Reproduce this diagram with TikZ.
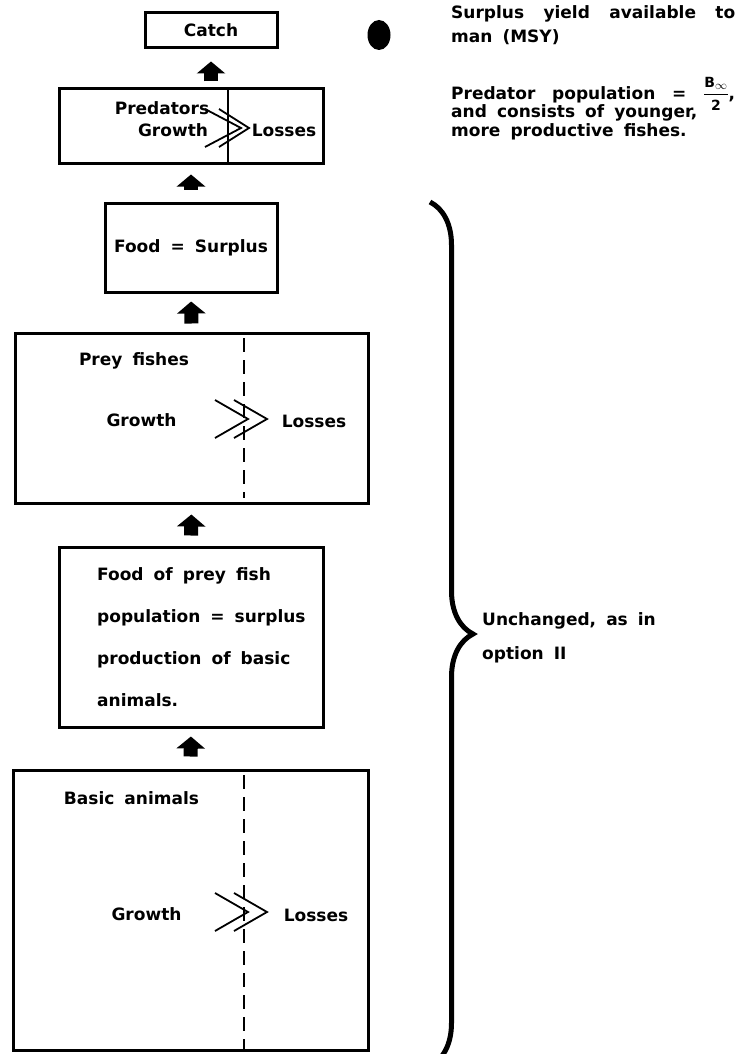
\documentclass[tikz,border=0pt]{standalone}
\usepackage{amsmath}
\usepackage{fontspec}
\setmainfont{DejaVu Sans}[WordSpace=1.7]
\usetikzlibrary{arrows.meta, decorations.pathreplacing}

\begin{document}
\begin{tikzpicture}[
    x=1pt, y=-1pt,
    box/.style={rectangle, draw, line width=3pt, inner sep=0pt},
    txt/.style={font=\bfseries\fontsize{17}{20}\selectfont, inner sep=0pt},
    remark/.style={font=\bfseries\fontsize{17}{24}\selectfont, inner sep=0pt, align=left},
    blockarrow/.style={-{Triangle[width=28pt, length=12pt]}, line width=14pt},
    divider/.style={line width=2pt},
    chevron/.style={line width=1.8pt}
]

% Fixed page size
\useasboundingbox (0,0) rectangle (739,1054);

% Catch and surplus yield
\node[box, txt, minimum width=132pt, minimum height=35pt] (catch) at (211,30.5) {Catch};
\fill (379,35) ellipse [x radius=11.5, y radius=15];
\node[remark, anchor=north west] (msy_note) at (451,5)
    {\makebox[284pt][s]{Surplus yield available to}\\man (MSY)};

% Predators
\node[box, minimum width=264pt, minimum height=74pt] (pred) at (191,126) {};
\node[txt] (pred_name) at (162,108) {Predators};
\node[txt] (pred_growth) at (173,130) {Growth};
\node[txt] (pred_losses) at (284,130) {Losses};
\draw[divider] (228,89) -- (228,163);
\draw[chevron, shift={(205,128)}] (0,-19) -- (36,0) -- (0,19) (14,-19) -- (44,0) -- (14,19);
\node[remark, anchor=north west, font={\bfseries\fontsize{17}{18.5}\selectfont\setlength{\lineskiplimit}{-40pt}}] (pred_note) at (451,77)
    {\makebox[284pt][s]{Predator population = $\dfrac{\text{\fontsize{14}{14}\selectfont B}_\infty}{\text{\fontsize{14}{14}\selectfont 2}}$,}\\and consists of younger,\\more productive fishes.};

% Food of predators
\node[box, txt, minimum width=172pt, minimum height=89pt] (food_box) at (191,247.5) {Food = Surplus};

% Prey fishes
\node[box, minimum width=353pt, minimum height=170pt] (prey_box) at (191.5,418) {};
\node[txt] (prey_name) at (134,361) {Prey fishes};
\node[txt] (prey_growth) at (141.5,420) {Growth};
\node[txt] (prey_losses) at (314,421) {Losses};
\draw[divider, dash pattern=on 14pt off 8pt] (244,338) -- (244,498);
\draw[chevron, shift={(215,419)}] (0,-19) -- (33,0) -- (0,19) (19,-19) -- (52,0) -- (19,19);

% Food of prey fishes
\node[box, minimum width=264pt, minimum height=180pt] (prey_food) at (191,637) {};
\node[txt, align=left, anchor=west, font=\bfseries\fontsize{17}{42}\selectfont] (prey_food_txt) at (97,637.5)
    {Food of prey fish\\population = surplus\\production of basic\\animals.};

% Basic animals
\node[box, minimum width=355pt, minimum height=280pt] (basic_box) at (190.5,910) {};
\node[txt] (basic_name) at (131.5,798) {Basic animals};
\node[txt] (basic_growth) at (146.5,914) {Growth};
\node[txt] (basic_losses) at (316,915) {Losses};
\draw[divider, dash pattern=on 14pt off 8pt] (244,775) -- (244,1050);
\draw[chevron, shift={(215,912)}] (0,-19) -- (33,0) -- (0,19) (19,-19) -- (52,0) -- (19,19);

% Block arrows upwards
\draw[blockarrow, shorten <=6pt, shorten >=12pt] (pred.north -| catch.south) -- (catch.south);
\draw[blockarrow, shorten <=12pt, shorten >=10pt] (food_box.north) -- (pred.south);
\draw[blockarrow, shorten <=8pt, shorten >=8pt] (prey_box.north) -- (food_box.south);
\draw[blockarrow, shorten <=10pt, shorten >=10pt] (prey_food.north) -- (prey_box.south);
\draw[blockarrow, shorten <=12pt, shorten >=8pt] (basic_box.north) -- (prey_food.south);

% Brace over the unchanged part
\coordinate (brace_top) at (430,202);
\coordinate (brace_bot) at (430,1066);
\draw[line width=5pt, decorate, decoration={brace, amplitude=43pt}] (brace_top) -- (brace_bot);
\node[remark, anchor=west, font=\bfseries\fontsize{17}{34}\selectfont] (unchanged_note) at (482,638)
    {Unchanged, as in\\option II};

\end{tikzpicture}
\end{document}
